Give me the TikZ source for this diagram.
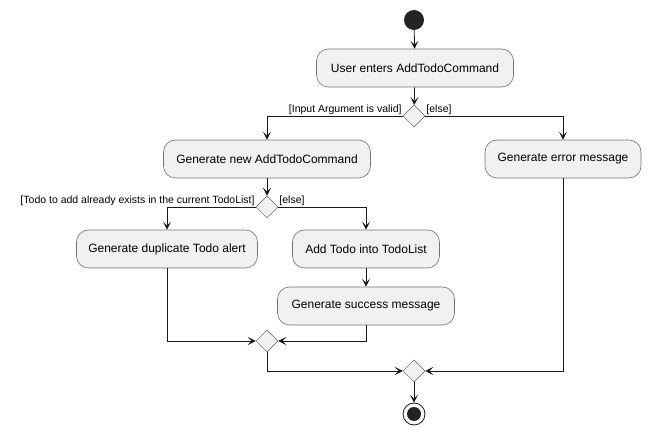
\documentclass[tikz,border=0pt]{standalone}
\usepackage{fontspec}
\setmainfont{Liberation Sans}
\usetikzlibrary{arrows.meta,shapes.geometric}
\definecolor{actfill}{HTML}{F1F1F1}
\definecolor{actline}{HTML}{181818}
\tikzset{
  action/.style={draw=actline!60, fill=actfill, rounded corners=12pt, line width=0.6pt,
    minimum height=38pt, inner xsep=9pt, font=\fontsize{12}{14}\selectfont},
  branch/.style={diamond, draw=actline!70, fill=actfill, line width=0.5pt,
    minimum width=22pt, minimum height=22pt, inner sep=0pt},
  guard/.style={font=\fontsize{10.5}{12}\selectfont, inner sep=1pt},
  flow/.style={draw=actline, line width=0.8pt,
    -{Stealth[length=8pt,width=8pt,inset=4pt]}},
}
\begin{document}
\begin{tikzpicture}[x=1pt,y=-1pt]
    \useasboundingbox (0,0) rectangle (651,435);
    % nodes, placed at pixel coordinates of the reference
    \node[circle, fill=actline!95, minimum size=20pt, inner sep=0pt] (start) at (414,20) {};
    \node[action, minimum width=197pt] (enter) at (415,68) {User enters AddTodoCommand};
    \node[branch] (valid) at (414,116) {};
    \node[action, minimum width=207pt] (newcmd) at (267,159) {Generate new AddTodoCommand};
    \node[action, minimum width=156pt] (error) at (563,159) {Generate error message};
    \node[branch] (exists) at (267,207) {};
    \node[action, minimum width=181pt] (dup) at (167,249) {Generate duplicate Todo alert};
    \node[action, minimum width=147pt] (add) at (366,249) {Add Todo into TodoList};
    \node[action, minimum width=177pt] (success) at (366,306) {Generate success message};
    \node[branch] (mergein) at (267,341) {};
    \node[branch] (mergeout) at (414,371) {};
    \node[circle, draw=actline, line width=0.8pt, minimum size=22pt, inner sep=0pt] (stop) at (414,414) {};
    \fill[actline!95] (stop.center) circle (7pt);

    % guards
    \node[guard, anchor=south east] (validlbl) at (valid.west) {[Input Argument is valid]};
    \node[guard, anchor=south west] (elselbl) at (valid.east) {[else]};
    \node[guard, anchor=south east] (existslbl) at (exists.west) {[Todo to add already exists in the current TodoList]};
    \node[guard, anchor=south west] (elselbltwo) at (exists.east) {[else]};

    % connectors
    \draw[flow] (start) -- (enter);
    \draw[flow] (enter) -- (valid);
    \draw[flow] (valid.west) -| (newcmd.north);
    \draw[flow] (valid.east) -| (error.north);
    \draw[flow] (newcmd) -- (exists);
    \draw[flow] (exists.west) -| (dup.north);
    \draw[flow] (exists.east) -| (add.north);
    \draw[flow] (add) -- (success);
    \draw[flow] (dup.south) |- (mergein.west);
    \draw[flow] (success.south) |- (mergein.east);
    \draw[flow] (mergein.south) |- (mergeout.west);
    \draw[flow] (error.south) |- (mergeout.east);
    \draw[flow] (mergeout) -- (stop);
\end{tikzpicture}
\end{document}
